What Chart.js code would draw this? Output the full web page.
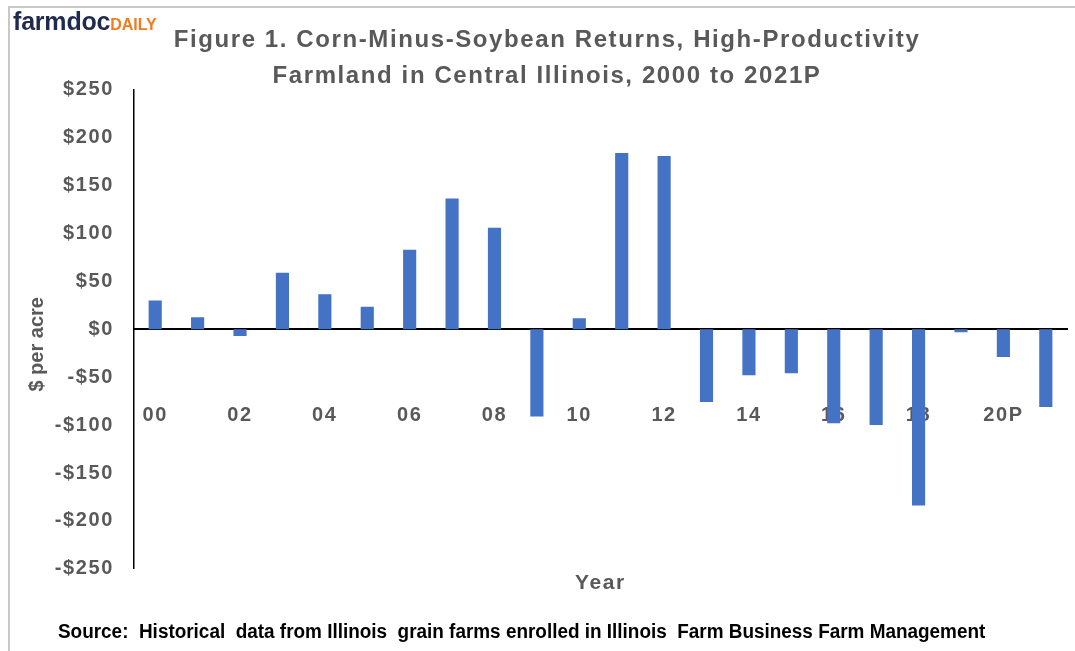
<!DOCTYPE html>
<html>
<head>
<meta charset="utf-8">
<script src="https://cdn.jsdelivr.net/npm/chart.js@4/dist/chart.umd.min.js"></script>
<style>
  html, body { margin: 0; padding: 0; background: #fff; }
  #wrap { position: relative; width: 1075px; height: 651px; overflow: hidden; }
  #frame { position: absolute; left: 8px; top: 6px; right: -10px; bottom: -10px; border-left: 2px solid #c8c8c8; border-top: 2px solid #c8c8c8; }
  #logo { position: absolute; left: 13px; top: 7px; font-family: "Liberation Sans", Arial, sans-serif; font-weight: bold; white-space: nowrap; }
  #logo .farm { color: #1f2a4d; font-size: 25px; letter-spacing: -0.2px; }
  #logo .daily { color: #f47a20; font-size: 16px; }
  #source { position: absolute; left: 58px; top: 620px; font-family: "Liberation Sans Narrow", "Arial Narrow", "Liberation Sans", Arial, sans-serif; font-weight: bold; font-size: 20px; color: #000; white-space: nowrap; transform: scaleX(0.946); transform-origin: 0 0; }
  canvas { position: absolute; left: 0; top: 0; }
</style>
</head>
<body>
<div id="wrap">
  <div id="frame"></div>
  <canvas id="mycanvas" width="1075" height="651"></canvas>
  <div id="logo"><span class="farm">farmdoc</span><span class="daily">DAILY</span></div>
  <div id="source">Source:&nbsp; Historical&nbsp; data from Illinois&nbsp; grain farms enrolled in Illinois&nbsp; Farm Business Farm Management</div>
</div>
<script>
var years = ['00', '01', '02', '03', '04', '05', '06', '07', '08', '09', '10',
             '11', '12', '13', '14', '15', '16', '17', '18', '19', '20P', '21P'];
var returns = [30, 12.5, -7, 59, 36.5, 23.5, 83, 136.5, 106, -91, 11.5,
               184, 181, -76, -48, -46, -98, -100, -184, -3, -29, -81];
var yTicks = [250, 200, 150, 100, 50, 0, -50, -100, -150, -200, -250];

var grey = '#595959';
var fontFam = '"Liberation Sans", Arial, sans-serif';

// the picture's text is a little wider than plain Arial, so space the letters out
var spacing = {
  id: 'spacing',
  beforeLayout: function(chart) { chart.ctx.letterSpacing = '1.6px'; },
  beforeDraw: function(chart) { chart.ctx.letterSpacing = '1.6px'; }
};

function noSidePadding(scale) {
  scale.paddingLeft = 0;
  scale.paddingRight = 0;
}

// y title: no extra spacing and sits a bit below the middle in the original
function yAxisFit(scale) {
  scale.width = 107;
  if (scale._titleWrapped) return;
  var orig = scale.drawTitle;
  scale.drawTitle = function() {
    var c = this.ctx;
    c.save();
    c.letterSpacing = '0px';
    c.translate(0, 15);
    orig.call(this);
    c.restore();
  };
  scale._titleWrapped = true;
}

var chartdata = {
  labels: years,
  datasets: [
    {
      label: 'Corn minus soybean',
      backgroundColor: '#4472C4',
      borderWidth: 0,
      barPercentage: 0.31,
      categoryPercentage: 1,
      xAxisID: 'x',
      data: returns
    }
  ]
};

var ctx = document.getElementById('mycanvas');

var barGraph = new Chart(ctx, {
  type: 'bar',
  data: chartdata,
  plugins: [spacing],
  options: {
    responsive: false,
    animation: false,
    layout: { padding: { left: 27, right: 8, top: 0, bottom: 55 } },
    plugins: {
      legend: { display: false },
      tooltip: { enabled: false },
      title: {
        display: true,
        text: ['Figure 1. Corn-Minus-Soybean Returns, High-Productivity',
               'Farmland in Central Illinois, 2000 to 2021P'],
        color: grey,
        font: { family: fontFam, size: 24, weight: 'bold', lineHeight: 1.475 },
        padding: { top: 23, bottom: -4 }
      }
    },
    scales: {
      x: {
        position: 'bottom',
        offset: true,
        afterFit: noSidePadding,
        grid: { display: false, drawTicks: false },
        border: { display: false },
        ticks: { display: false },
        title: {
          display: true,
          text: 'Year',
          color: grey,
          font: { family: fontFam, size: 21, weight: 'bold' },
          padding: { top: 2, bottom: 0 }
        }
      },
      x2: {
        type: 'category',
        position: { y: 0 },
        offset: true,
        afterFit: noSidePadding,
        grid: { display: false, drawTicks: false },
        border: { display: true, color: '#000', width: 2 },
        ticks: {
          autoSkip: false,
          maxRotation: 0,
          padding: 74,
          color: grey,
          font: { family: fontFam, size: 20, weight: 'bold' },
          callback: function(val, i) { return i % 2 === 0 ? years[i] : ''; }
        }
      },
      y: {
        min: -250,
        max: 250,
        afterFit: yAxisFit,
        afterBuildTicks: function(scale) {
          scale.ticks = yTicks.map(function(v) { return { value: v }; });
        },
        grid: { display: false, drawTicks: false },
        border: { display: true, color: '#000', width: 1.5 },
        ticks: {
          padding: 20,
          color: grey,
          font: { family: fontFam, size: 20, weight: 'bold' },
          callback: function(v) { return (v < 0 ? '-$' : '$') + Math.abs(v); }
        },
        title: {
          display: true,
          text: '$ per acre',
          color: grey,
          font: { family: fontFam, size: 20, weight: 'bold', lineHeight: 1 },
          padding: 0
        }
      }
    }
  }
});
</script>
</body>
</html>
